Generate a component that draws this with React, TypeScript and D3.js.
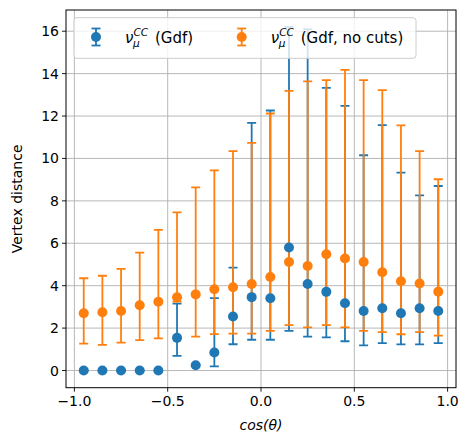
import React from "react";
import * as d3 from "d3";

const cosTheta = [-0.95, -0.85, -0.75, -0.65, -0.55, -0.45, -0.35, -0.25, -0.15, -0.05, 0.05, 0.15, 0.25, 0.35, 0.45, 0.55, 0.65, 0.75, 0.85, 0.95];

const gdfY = [0, 0, 0, 0, 0, 1.54, 0.25, 0.85, 2.55, 3.46, 3.41, 5.8, 4.08, 3.71, 3.17, 2.81, 2.94, 2.7, 2.94, 2.81];
const gdfLo = [0, 0, 0, 0, 0, 0.69, 0.25, 0.2, 1.24, 1.45, 1.45, 1.87, 1.6, 1.56, 1.38, 1.19, 1.29, 1.23, 1.23, 1.29];
const gdfHi = [0, 0, 0, 0, 0, 3.15, 0.25, 3.41, 4.85, 11.68, 12.26, 16.2, 16.1, 13.33, 12.48, 10.15, 11.57, 9.33, 8.26, 8.7];

const noCutY = [2.7, 2.75, 2.81, 3.08, 3.24, 3.45, 3.59, 3.83, 3.93, 4.08, 4.41, 5.12, 4.93, 5.48, 5.28, 5.12, 4.63, 4.21, 4.1, 3.72];
const noCutLo = [1.27, 1.21, 1.32, 1.43, 1.52, 3.25, 1.6, 1.72, 1.74, 1.74, 1.87, 2.14, 2.03, 2.14, 2.03, 1.87, 1.81, 1.71, 1.81, 1.65];
const noCutHi = [4.35, 4.47, 4.79, 5.56, 6.63, 7.46, 8.64, 9.44, 10.35, 10.73, 12.12, 13.19, 13.63, 13.69, 14.18, 13.69, 13.22, 11.56, 10.35, 9.02];

const xTicks = [-1.0, -0.5, 0.0, 0.5, 1.0];
const yTicks = [0, 2, 4, 6, 8, 10, 12, 14, 16];

const BLUE = "#1f77b4";
const ORANGE = "#ff7f0e";
const FONT = "DejaVu Sans";

const W = 462, H = 437;
const L = 66, R = 456, T = 10, B = 387.7;

export default function App() {
  const x = d3.scaleLinear().domain([-1.045, 1.045]).range([L, R]);
  const y = d3.scaleLinear().domain([-0.81, 17.0]).range([B, T]);
  const fmt = (v: number) => (v < 0 ? "\u2212" : "") + d3.format(".1f")(Math.abs(v));

  const series = [
    { color: BLUE, ys: gdfY, lo: gdfLo, hi: gdfHi },
    { color: ORANGE, ys: noCutY, lo: noCutLo, hi: noCutHi },
  ];
  const cap = 4.5;

  const legendItem = (lx: number, color: string, label: string) => (
    <g>
      <line x1={lx} x2={lx} y1={28.5} y2={45.5} stroke={color} strokeWidth={1.8} />
      <line x1={lx - cap} x2={lx + cap} y1={28.5} y2={28.5} stroke={color} strokeWidth={1.8} />
      <line x1={lx - cap} x2={lx + cap} y1={45.5} y2={45.5} stroke={color} strokeWidth={1.8} />
      <circle cx={lx} cy={37} r={5} fill={color} />
      <text x={lx + 29} y={42.5} fontFamily={FONT} fontSize={15} fontStyle="italic">ν</text>
      <text x={lx + 37.5} y={36} fontFamily={FONT} fontSize={10.5} fontStyle="italic">CC</text>
      <text x={lx + 37} y={46.5} fontFamily={FONT} fontSize={10.5} fontStyle="italic">μ</text>
      <text x={lx + 59} y={42.5} fontFamily={FONT} fontSize={15}>{label}</text>
    </g>
  );

  return (
    <svg width={W} height={H} style={{ position: "absolute", left: 0, top: 0, background: "#fff" }}>
      <rect x={0} y={0} width={W} height={H} fill="#fff" />
      <defs>
        <clipPath id="plot">
          <rect x={L} y={T} width={R - L} height={B - T} />
        </clipPath>
      </defs>
      <g stroke="#b0b0b0" strokeWidth={0.9}>
        {xTicks.map((t) => (
          <line key={"gx" + t} x1={x(t)} x2={x(t)} y1={T} y2={B} />
        ))}
        {yTicks.map((t) => (
          <line key={"gy" + t} x1={L} x2={R} y1={y(t)} y2={y(t)} />
        ))}
      </g>
      <g clipPath="url(#plot)">
        {series.map((s, si) => (
          <g key={"bars" + si} stroke={s.color} strokeWidth={1.8}>
            {cosTheta.map((c, i) => (
              <g key={i}>
                <line x1={x(c)} x2={x(c)} y1={y(s.lo[i])} y2={y(s.hi[i])} />
                <line x1={x(c) - cap} x2={x(c) + cap} y1={y(s.lo[i])} y2={y(s.lo[i])} />
                <line x1={x(c) - cap} x2={x(c) + cap} y1={y(s.hi[i])} y2={y(s.hi[i])} />
              </g>
            ))}
          </g>
        ))}
        {series.map((s, si) => (
          <g key={"pts" + si} fill={s.color}>
            {cosTheta.map((c, i) => (
              <circle key={i} cx={x(c)} cy={y(s.ys[i])} r={5} />
            ))}
          </g>
        ))}
      </g>
      <rect x={L} y={T} width={R - L} height={B - T} fill="none" stroke="#000" strokeWidth={1} />
      {xTicks.map((t) => (
        <g key={"xt" + t}>
          <line x1={x(t)} x2={x(t)} y1={B} y2={B + 4} stroke="#000" strokeWidth={0.9} />
          <text x={x(t)} y={B + 18.5} textAnchor="middle" fontFamily={FONT} fontSize={14} fill="#000">
            {fmt(t)}
          </text>
        </g>
      ))}
      {yTicks.map((t) => (
        <g key={"yt" + t}>
          <line x1={L - 4} x2={L} y1={y(t)} y2={y(t)} stroke="#000" strokeWidth={0.9} />
          <text x={L - 7} y={y(t) + 5} textAnchor="end" fontFamily={FONT} fontSize={14} fill="#000">
            {t}
          </text>
        </g>
      ))}
      <text x={x(0)} y={430} textAnchor="middle" fontFamily={FONT} fontSize={14} fontStyle="italic">
        cos(θ)
      </text>
      <text transform={`translate(22,${(T + B) / 2}) rotate(-90)`} textAnchor="middle" fontFamily={FONT} fontSize={14}>
        Vertex distance
      </text>
      <rect x={74} y={17.7} width={342} height={40.6} rx={3} fill="#fff" fillOpacity={0.8} stroke="#cccccc" strokeWidth={1} />
      {legendItem(96, BLUE, "(Gdf)")}
      {legendItem(241.7, ORANGE, "(Gdf, no cuts)")}
    </svg>
  );
}
